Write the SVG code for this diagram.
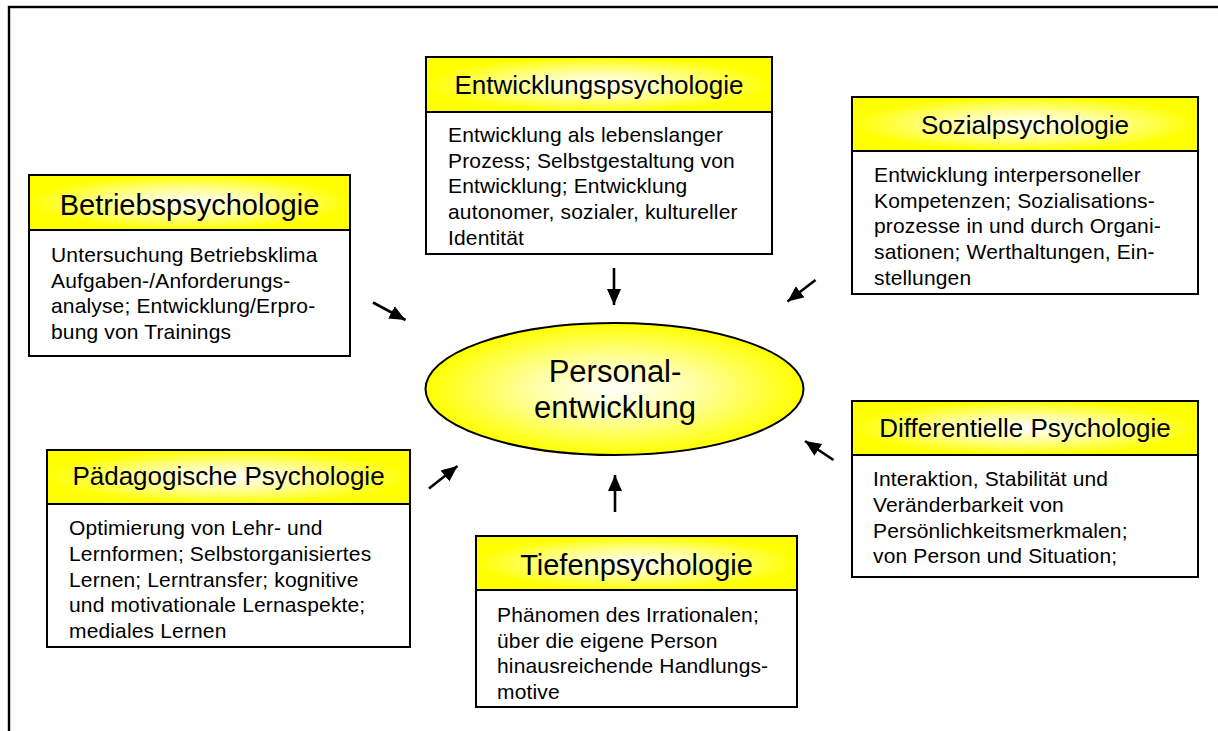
<svg xmlns="http://www.w3.org/2000/svg" width="1218" height="731" viewBox="0 0 1218 731">
<defs>
<radialGradient id="gy" cx="50%" cy="50%" r="50%">
<stop offset="0%" stop-color="#ffffff"/>
<stop offset="45%" stop-color="#ffffa0"/>
<stop offset="100%" stop-color="#ffff00"/>
</radialGradient>
<radialGradient id="ge" cx="50%" cy="50%" r="50%">
<stop offset="0%" stop-color="#ffffff"/>
<stop offset="45%" stop-color="#ffffa0"/>
<stop offset="100%" stop-color="#ffff00"/>
</radialGradient>
<marker id="ah" markerUnits="userSpaceOnUse" markerWidth="18" markerHeight="16" refX="16" refY="7" orient="auto">
<path d="M0,0 L16,7 L0,14 z" fill="#000"/>
</marker>
<style>
.box{fill:#fff;stroke:#000;stroke-width:2}
.hdr{fill:url(#gy);stroke:#000;stroke-width:2}
.t{font-family:"Liberation Sans",Arial,sans-serif;fill:#000}
.title{font-size:26px;text-anchor:middle}
.big{font-size:29px}
.body{font-size:21px;letter-spacing:0.15px}
.arr{stroke:#000;stroke-width:2.6;fill:none;marker-end:url(#ah)}
</style>
</defs>
<rect x="9" y="7" width="1230" height="740" fill="none" stroke="#000" stroke-width="2.4"/>

<g id="betriebspsychologie">
<rect class="box" x="29" y="175" width="321" height="181"/>
<rect class="hdr" x="29" y="175" width="321" height="55"/>
<text class="t title big" x="189.5" y="215">Betriebspsychologie</text>
<text class="t body" x="51"><tspan x="51" y="261.7">Untersuchung Betriebsklima</tspan><tspan x="51" y="287.5">Aufgaben-/Anforderungs-</tspan><tspan x="51" y="313.3">analyse; Entwicklung/Erpro-</tspan><tspan x="51" y="339.1">bung von Trainings</tspan></text>
</g>

<g id="entwicklungspsychologie">
<rect class="box" x="426" y="57" width="346" height="197"/>
<rect class="hdr" x="426" y="57" width="346" height="55"/>
<text class="t title" x="599" y="94">Entwicklungspsychologie</text>
<text class="t body"><tspan x="448" y="141.7">Entwicklung als lebenslanger</tspan><tspan x="448" y="167.5">Prozess; Selbstgestaltung von</tspan><tspan x="448" y="193.3">Entwicklung; Entwicklung</tspan><tspan x="448" y="219.1">autonomer, sozialer, kultureller</tspan><tspan x="448" y="244.9">Identität</tspan></text>
</g>

<g id="sozialpsychologie">
<rect class="box" x="852" y="97" width="346" height="197"/>
<rect class="hdr" x="852" y="97" width="346" height="54"/>
<text class="t title" x="1025" y="134">Sozialpsychologie</text>
<text class="t body"><tspan x="874" y="181.7">Entwicklung interpersoneller</tspan><tspan x="874" y="207.5">Kompetenzen; Sozialisations-</tspan><tspan x="874" y="233.3">prozesse in und durch Organi-</tspan><tspan x="874" y="259.1">sationen; Werthaltungen, Ein-</tspan><tspan x="874" y="284.9">stellungen</tspan></text>
</g>

<g id="paedagogische-psychologie">
<rect class="box" x="47" y="450" width="363" height="197"/>
<rect class="hdr" x="47" y="450" width="363" height="54"/>
<text class="t title" x="228.5" y="485">Pädagogische Psychologie</text>
<text class="t body"><tspan x="69" y="535">Optimierung von Lehr- und</tspan><tspan x="69" y="560.8">Lernformen; Selbstorganisiertes</tspan><tspan x="69" y="586.6">Lernen; Lerntransfer; kognitive</tspan><tspan x="69" y="612.4">und motivationale Lernaspekte;</tspan><tspan x="69" y="638.2">mediales Lernen</tspan></text>
</g>

<g id="tiefenpsychologie">
<rect class="box" x="476" y="536" width="321" height="171"/>
<rect class="hdr" x="476" y="536" width="321" height="54"/>
<text class="t title big" x="636.5" y="575">Tiefenpsychologie</text>
<text class="t body"><tspan x="497" y="621.7">Phänomen des Irrationalen;</tspan><tspan x="497" y="647.5">über die eigene Person</tspan><tspan x="497" y="673.3">hinausreichende Handlungs-</tspan><tspan x="497" y="699.1">motive</tspan></text>
</g>

<g id="differentielle-psychologie">
<rect class="box" x="852" y="401" width="346" height="176"/>
<rect class="hdr" x="852" y="401" width="346" height="54"/>
<text class="t title" x="1025" y="437">Differentielle Psychologie</text>
<text class="t body"><tspan x="873" y="486">Interaktion, Stabilität und</tspan><tspan x="873" y="511.8">Veränderbarkeit von</tspan><tspan x="873" y="537.6">Persönlichkeitsmerkmalen;</tspan><tspan x="873" y="563.4">von Person und Situation;</tspan></text>
</g>

<g id="personalentwicklung">
<ellipse cx="614.5" cy="389" rx="189" ry="66" fill="url(#ge)" stroke="#000" stroke-width="2"/>
<text class="t" font-size="31" text-anchor="middle"><tspan x="615" y="381.7">Personal-</tspan><tspan x="615" y="418.3">entwicklung</tspan></text>
</g>

<g id="connectors">
<line class="arr" x1="373" y1="302.5" x2="405.5" y2="320"/>
<line class="arr" x1="614" y1="268" x2="614" y2="305"/>
<line class="arr" x1="815.5" y1="280" x2="787.5" y2="301.5"/>
<line class="arr" x1="429" y1="488.5" x2="457.5" y2="466"/>
<line class="arr" x1="615" y1="512" x2="615" y2="475"/>
<line class="arr" x1="833.5" y1="460" x2="805" y2="441"/>
</g>
</svg>
